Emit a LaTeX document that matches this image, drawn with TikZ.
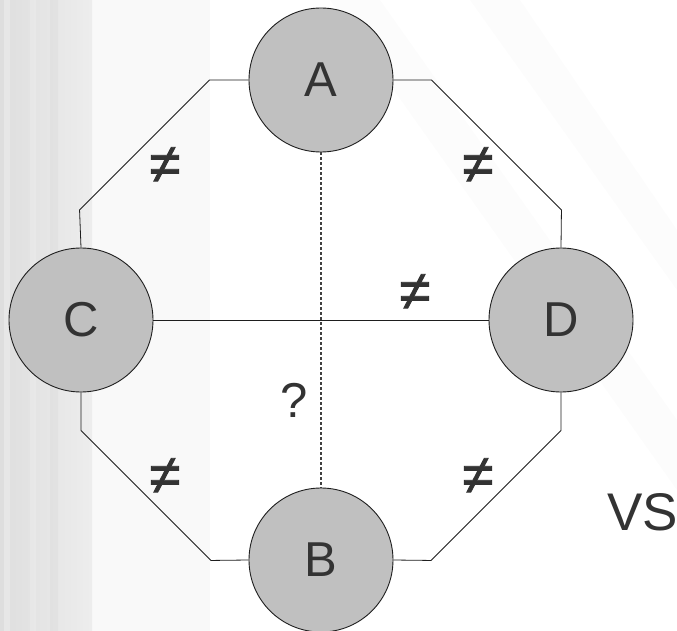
\documentclass[tikz,border=0pt]{standalone}
\usepackage{fontspec}
\setmainfont{Liberation Sans}
\newfontfamily\symfont[FakeBold=1.6]{Liberation Sans}
\usetikzlibrary{positioning}

\definecolor{vertexfill}{HTML}{C0C0C0}
\definecolor{labelgray}{HTML}{333333}
\definecolor{edgegray}{HTML}{1E1E1E}

\tikzset{
    vertex/.style={circle, draw=edgegray, line width=0.9pt, fill=vertexfill,
        minimum size=144pt, inner sep=0pt, text=labelgray,
        font=\fontsize{49}{58}\selectfont},
    mark label/.style={text=labelgray, inner sep=0pt, font=\fontsize{49}{58}\selectfont},
    neq label/.style={mark label, font=\symfont\fontsize{56}{66}\selectfont},
    edge/.style={draw=edgegray, line width=0.8pt},
    unknown edge/.style={draw=black!75, line width=1.1pt, dash pattern=on 3pt off 2pt}
}

\begin{document}
\begin{tikzpicture}[x=1pt, y=-1pt]
        % Background
        \useasboundingbox (0,0) rectangle (677,631);
        \fill[white] (0,0) rectangle (677,631);
        \shade[left color=black!13, right color=black!7] (0,0) rectangle (92,631);
        \fill[white, opacity=0.25] (4,0) rectangle (10,631);
        \fill[white, opacity=0.15] (30,0) rectangle (36,631);
        \fill[black, opacity=0.02] (50,0) rectangle (58,631);
        \fill[black!6, opacity=0.4] (92,0) rectangle (210,631);
        \fill[black, opacity=0.012] (330,0) -- (380,0) -- (677,420) -- (677,490) -- cycle;
        \fill[black, opacity=0.01] (470,0) -- (520,0) -- (677,230) -- (677,290) -- cycle;

        % Vertices
        \node[vertex] (A) at (321,80) {A};
        \node[vertex] (C) at (81,320) {C};
        \node[vertex] (D) at (561,320) {D};
        \node[vertex] (B) at (321,560) {B};

        % Outer edges
        \draw[edge] (A.west) -- ++(-39,0) -- ++(-130,130) -- (C.north);
        \draw[edge] (A.east) -- ++(38,0) -- ++(130,130) -- (D.north);
        \draw[edge] (C.south) -- ++(0,38) -- ++(130,130) -- (B.west);
        \draw[edge] (D.south) -- ++(0,38) -- ++(-130,130) -- (B.east);

        % Inner edges
        \draw[edge] (C.east) -- (D.west);
        \draw[unknown edge] (A.south) -- (B.north);

        % Labels
        \node[neq label] (ac) at (165,165) {≠};
        \node[neq label] (ad) at (478,165) {≠};
        \node[neq label] (cd) at (415,292) {≠};
        \node[neq label] (cb) at (165,476) {≠};
        \node[neq label] (db) at (478,476) {≠};
        \node[mark label] (ab) at (294,400) {?};
        \node[mark label, font=\fontsize{53}{62}\selectfont, anchor=west] (vs) at (607,512) {VS};
    \end{tikzpicture}
\end{document}
